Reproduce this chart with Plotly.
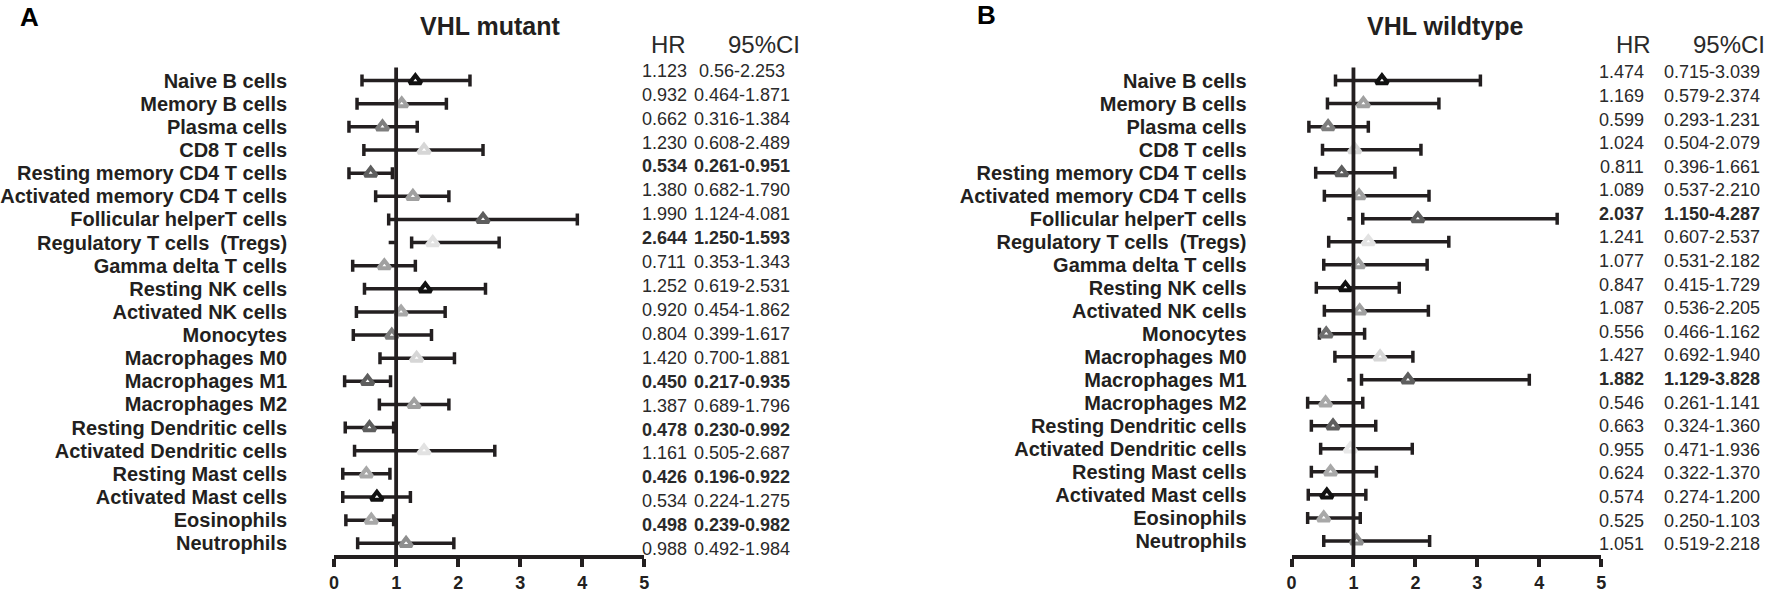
import plotly.graph_objects as go

# ---------------- data ----------------
categories = ["Naive B cells", "Memory B cells", "Plasma cells", "CD8 T cells",
              "Resting memory CD4 T cells", "Activated memory CD4 T cells",
              "Follicular helperT cells", "Regulatory T cells\u00a0 (Tregs)",
              "Gamma delta T cells", "Resting NK cells", "Activated NK cells",
              "Monocytes", "Macrophages M0", "Macrophages M1", "Macrophages M2",
              "Resting Dendritic cells", "Activated Dendritic cells",
              "Resting Mast cells", "Activated Mast cells", "Eosinophils", "Neutrophils"]

# VHL mutant: plotted values
mut_hr = [1.31, 1.09, 0.78, 1.45, 0.59, 1.27, 2.40, 1.59, 0.81, 1.47, 1.08,
          0.93, 1.33, 0.54, 1.29, 0.57, 1.45, 0.52, 0.69, 0.60, 1.16]
mut_lo = [0.45, 0.37, 0.24, 0.48, 0.24, 0.67, 0.88, 1.25, 0.30, 0.49, 0.36,
          0.31, 0.74, 0.17, 0.73, 0.18, 0.33, 0.14, 0.14, 0.19, 0.38]
mut_hi = [2.19, 1.81, 1.34, 2.40, 0.94, 1.85, 3.92, 2.66, 1.31, 2.44, 1.79,
          1.57, 1.94, 0.91, 1.85, 0.96, 2.59, 0.90, 1.23, 0.96, 1.93]
# short stray segments left of the HR=1 line (rows numbered from 1)
mut_stub_rows = [8]
mut_stub_lo = [0.88]
mut_stub_hi = [0.98]
# VHL mutant table text
mut_hr_txt = ["1.123", "0.932", "0.662", "1.230", "0.534", "1.380", "1.990", "2.644",
              "0.711", "1.252", "0.920", "0.804", "1.420", "0.450", "1.387", "0.478",
              "1.161", "0.426", "0.534", "0.498", "0.988"]
mut_ci_txt = ["0.56-2.253", "0.464-1.871", "0.316-1.384", "0.608-2.489", "0.261-0.951",
              "0.682-1.790", "1.124-4.081", "1.250-1.593", "0.353-1.343", "0.619-2.531",
              "0.454-1.862", "0.399-1.617", "0.700-1.881", "0.217-0.935", "0.689-1.796",
              "0.230-0.992", "0.505-2.687", "0.196-0.922", "0.224-1.275", "0.239-0.982",
              "0.492-1.984"]
mut_bold = [False, False, False, False, True, False, False, True, False, False, False,
            False, False, True, False, True, False, True, False, True, False]

# VHL wildtype: plotted values
wt_hr = [1.46, 1.16, 0.59, 1.02, 0.81, 1.09, 2.04, 1.24, 1.08, 0.87, 1.10,
         0.56, 1.43, 1.88, 0.55, 0.67, 0.95, 0.63, 0.57, 0.52, 1.05]
wt_lo = [0.71, 0.58, 0.28, 0.50, 0.39, 0.53, 1.15, 0.60, 0.52, 0.40, 0.53,
         0.45, 0.70, 1.13, 0.26, 0.32, 0.47, 0.32, 0.27, 0.26, 0.52]
wt_hi = [3.05, 2.38, 1.24, 2.09, 1.67, 2.22, 4.29, 2.54, 2.19, 1.74, 2.21,
         1.18, 1.96, 3.84, 1.15, 1.36, 1.95, 1.37, 1.20, 1.11, 2.23]
wt_stub_rows = [7, 14]
wt_stub_lo = [0.90, 0.90]
wt_stub_hi = [0.99, 0.99]
wt_hr_txt = ["1.474", "1.169", "0.599", "1.024", "0.811", "1.089", "2.037", "1.241",
             "1.077", "0.847", "1.087", "0.556", "1.427", "1.882", "0.546", "0.663",
             "0.955", "0.624", "0.574", "0.525", "1.051"]
wt_ci_txt = ["0.715-3.039", "0.579-2.374", "0.293-1.231", "0.504-2.079", "0.396-1.661",
             "0.537-2.210", "1.150-4.287", "0.607-2.537", "0.531-2.182", "0.415-1.729",
             "0.536-2.205", "0.466-1.162", "0.692-1.940", "1.129-3.828", "0.261-1.141",
             "0.324-1.360", "0.471-1.936", "0.322-1.370", "0.274-1.200", "0.250-1.103",
             "0.519-2.218"]
wt_bold = [False, False, False, False, False, False, True, False, False, False, False,
           False, False, True, False, False, False, False, False, False, False]

x_ticks = [0, 1, 2, 3, 4, 5]

# marker outline colours (style)
mut_colors = ["#111111", "#a0a0a0", "#7e7e7e", "#d6d6d6", "#5e5e5e", "#a0a0a0", "#5e5e5e",
              "#e2e2e2", "#a0a0a0", "#111111", "#a8a8a8", "#7e7e7e", "#d6d6d6", "#5e5e5e",
              "#a0a0a0", "#5e5e5e", "#e2e2e2", "#a8a8a8", "#111111", "#a8a8a8", "#8e8e8e"]
wt_colors = ["#111111", "#a0a0a0", "#7e7e7e", "#d6d6d6", "#5e5e5e", "#a0a0a0", "#5e5e5e",
             "#e2e2e2", "#a0a0a0", "#111111", "#a0a0a0", "#6e6e6e", "#d6d6d6", "#5e5e5e",
             "#a8a8a8", "#5e5e5e", "#e8e8e8", "#a8a8a8", "#111111", "#a8a8a8", "#8e8e8e"]

# ---------------- layout constants ----------------
W, H = 1772, 593
INK = "#231f20"
TABLE_INK = "#2a2a2a"
FONT = "Liberation Sans"
rows = list(range(1, len(categories) + 1))

def pxx(p):
    return p / W

def pyy(p):
    return 1 - p / H

AX_TOP, AX_BOT = 68.3, 563.0  # pixel extent of plot area (vertical)

def yrange(first_px, last_px):
    step = (last_px - first_px) / (len(rows) - 1)
    top = 1 - (first_px - AX_TOP) / step
    bot = len(rows) + (AX_BOT - last_px) / step
    return [bot, top]

panels = [
    dict(hr=mut_hr, lo=mut_lo, hi=mut_hi, colors=mut_colors, xdom=(329.3, 641.7),
         stub=(mut_stub_rows, mut_stub_lo, mut_stub_hi),
         yr=yrange(81.7, 550.7), standoff=46, xa="x", ya="y",
         hr_txt=mut_hr_txt, ci_txt=mut_ci_txt, bold=mut_bold,
         tab_first=71.7, tab_last=556.7, hr_cx=661.5, ci_cx=740,
         hdr_hr=666, hdr_ci=762, title="VHL mutant", title_cx=486.7,
         letter="A", letter_xy=(23, 17)),
    dict(hr=wt_hr, lo=wt_lo, hi=wt_hi, colors=wt_colors, xdom=(1293.3, 1605.0),
         stub=(wt_stub_rows, wt_stub_lo, wt_stub_hi),
         yr=yrange(81.7, 548.3), standoff=44, xa="x2", ya="y2",
         hr_txt=wt_hr_txt, ci_txt=wt_ci_txt, bold=wt_bold,
         tab_first=73.3, tab_last=551.7, hr_cx=1626, ci_cx=1717,
         hdr_hr=1637.5, hdr_ci=1734, title="VHL wildtype", title_cx=1448,
         letter="B", letter_xy=(986, 15)),
]

fig = go.Figure()
annotations = []
shapes = []

for i, p in enumerate(panels):
    # stray short segments
    sx, sy = [], []
    for r, a, b in zip(*p["stub"]):
        sx += [a, b, None]
        sy += [r, r, None]
    fig.add_trace(go.Scatter(x=sx, y=sy, xaxis=p["xa"], yaxis=p["ya"], mode="lines",
                             line=dict(color=INK, width=3.5), showlegend=False,
                             hoverinfo="skip"))

    plus = [h - c for h, c in zip(p["hi"], p["hr"])]
    minus = [c - l for c, l in zip(p["hr"], p["lo"])]
    fig.add_trace(go.Scatter(
        x=p["hr"], y=rows, xaxis=p["xa"], yaxis=p["ya"], mode="markers",
        marker=dict(symbol="triangle-up", size=10.5, color="white",
                    line=dict(color=p["colors"], width=4)),
        error_x=dict(type="data", symmetric=False, array=plus, arrayminus=minus,
                     color=INK, thickness=3.5, width=6),
        showlegend=False, hoverinfo="skip"))

    suffix = "" if i == 0 else "2"
    xa_cfg = dict(domain=[pxx(p["xdom"][0]), pxx(p["xdom"][1])], range=[0, 5],
                  anchor=p["ya"], showline=True, linecolor=INK, linewidth=3.8,
                  ticks="outside", ticklen=8, tickwidth=3.8, tickcolor=INK,
                  tickvals=x_ticks, ticktext=[str(t) for t in x_ticks],
                  tickfont=dict(family=FONT, size=18, color=INK, weight="bold"),
                  showgrid=False, zeroline=False, fixedrange=True)
    ya_cfg = dict(domain=[pyy(AX_BOT), pyy(AX_TOP)], range=p["yr"], anchor=p["xa"],
                  tickvals=rows, ticktext=categories, ticks="",
                  tickfont=dict(family=FONT, size=20, color=INK, weight="bold"),
                  ticklabelstandoff=p["standoff"],
                  showline=False, showgrid=False, zeroline=False, fixedrange=True)
    fig.update_layout(**{"xaxis" + suffix: xa_cfg, "yaxis" + suffix: ya_cfg})

    # reference line at HR = 1
    shapes.append(dict(type="line", xref=p["xa"], yref=p["ya"] + " domain",
                       x0=1, x1=1, y0=0, y1=1, line=dict(color=INK, width=3.8)))

    # title and panel letter
    annotations.append(dict(text=p["title"], x=pxx(p["title_cx"]), y=pyy(26),
                            xref="paper", yref="paper", showarrow=False,
                            xanchor="center", yanchor="middle",
                            font=dict(family=FONT, size=25, color=INK, weight="bold")))
    annotations.append(dict(text=p["letter"], x=pxx(p["letter_xy"][0]), y=pyy(p["letter_xy"][1]),
                            xref="paper", yref="paper", showarrow=False,
                            xanchor="center", yanchor="middle",
                            font=dict(family=FONT, size=26, color="#000000", weight="bold")))
    # table headers
    for txt, cx in (("HR", p["hdr_hr"]), ("95%CI", p["hdr_ci"])):
        annotations.append(dict(text=txt, x=pxx(cx), y=pyy(45.5), xref="paper", yref="paper",
                                showarrow=False, xanchor="center", yanchor="middle",
                                font=dict(family=FONT, size=24, color=TABLE_INK)))
    # table rows
    n = len(rows)
    step = (p["tab_last"] - p["tab_first"]) / (n - 1)
    for k in range(n):
        yy = pyy(p["tab_first"] + k * step)
        w = "bold" if p["bold"][k] else "normal"
        for txt, cx in ((p["hr_txt"][k], p["hr_cx"]), (p["ci_txt"][k], p["ci_cx"])):
            annotations.append(dict(text=txt, x=pxx(cx), y=yy, xref="paper", yref="paper",
                                    showarrow=False, xanchor="center", yanchor="middle",
                                    font=dict(family=FONT, size=18, color=TABLE_INK, weight=w)))

fig.update_layout(width=W, height=H, margin=dict(l=0, r=0, t=0, b=0),
                  paper_bgcolor="white", plot_bgcolor="white",
                  annotations=annotations, shapes=shapes, showlegend=False)

fig.write_html("out.html", config={"displayModeBar": False},
               post_script="document.body.style.margin='0';document.body.style.padding='0';"
                           "document.documentElement.style.overflow='hidden';")
